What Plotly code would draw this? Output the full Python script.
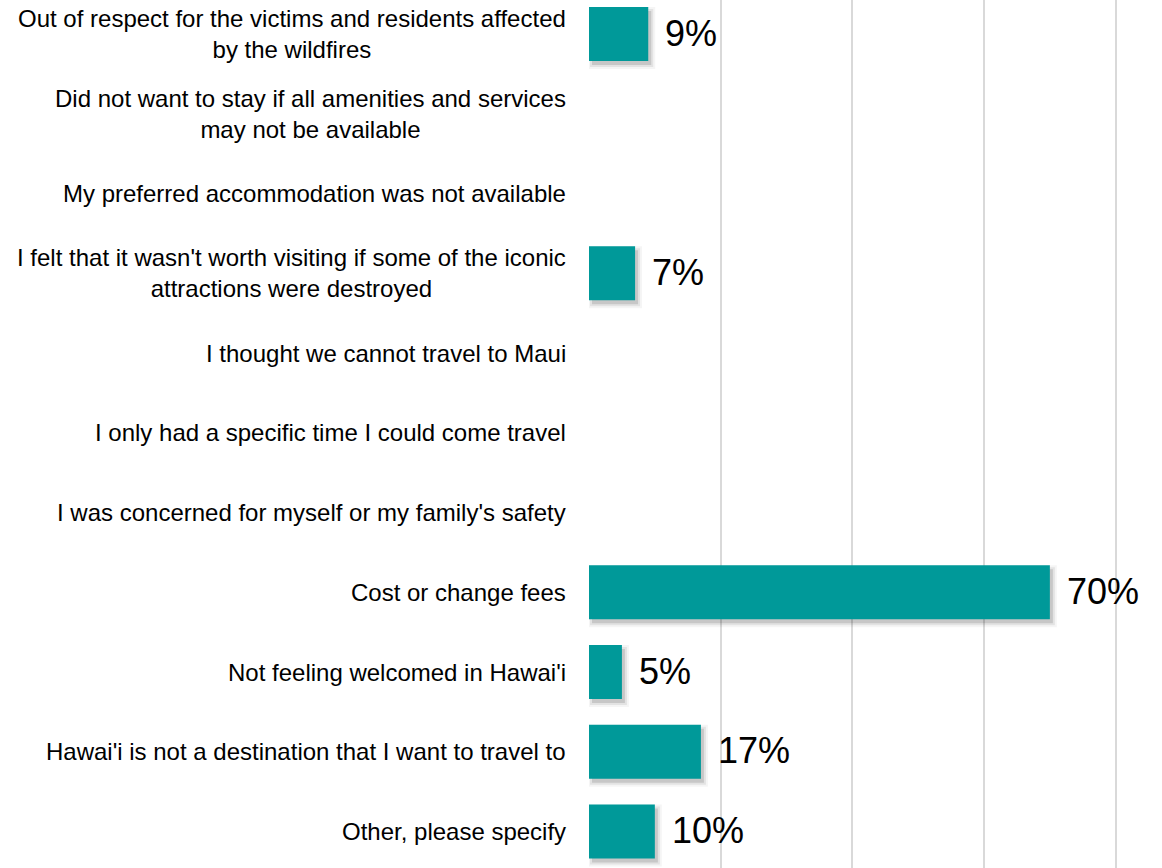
import plotly.graph_objects as go

# Reasons for cancelling / not travelling (share of respondents, %)
categories = [
    "Out of respect for the victims and residents affected<br>by the wildfires",
    "Did not want to stay if all amenities and services<br>may not be available",
    "My preferred accommodation was not available",
    "I felt that it wasn't worth visiting if some of the iconic<br>attractions were destroyed",
    "I thought we cannot travel to Maui",
    "I only had a specific time I could come travel",
    "I was concerned for myself or my family's safety",
    "Cost or change fees",
    "Not feeling welcomed in Hawai'i",
    "Hawai'i is not a destination that I want to travel to",
    "Other, please specify",
]
values = [9, None, None, 7, None, None, None, 70, 5, 17, 10]

BAR_COLOR = "#009999"
FONT = "Arial, Liberation Sans, sans-serif"
W, H = 1162, 868
L_MARGIN = 589
PX_PER_PCT = 6.5875
X_MAX = 80.5
R_MARGIN = round(W - L_MARGIN - X_MAX * PX_PER_PCT)
BAR_WIDTH = 0.68

px_per_unit_x = (W - L_MARGIN - R_MARGIN) / X_MAX
px_per_cat = 79.75
y_top = -34 / px_per_cat
y_bottom = (H - 34) / px_per_cat

fig = go.Figure()

# soft drop shadow built from a few translucent layers behind the bars
shadow_layers = [(3, 4, 4, 0.04), (3, 4, 2, 0.07), (3, 4, 0, 0.12)]
for dx, dy, grow, alpha in shadow_layers:
    xs = [None if v is None else v + (2 * grow) / px_per_unit_x for v in values]
    fig.add_trace(go.Bar(
        x=xs, y=categories, orientation="h",
        base=(dx - grow) / px_per_unit_x,
        width=BAR_WIDTH + 2 * grow / px_per_cat,
        offset=-(BAR_WIDTH / 2) + (dy - grow) / px_per_cat,
        marker=dict(color=f"rgba(0,0,0,{alpha})", line=dict(width=0)),
        hoverinfo="skip", showlegend=False,
    ))

fig.add_trace(go.Bar(
    x=values, y=categories, orientation="h",
    width=BAR_WIDTH,
    marker=dict(color=BAR_COLOR, line=dict(width=0)),
    showlegend=False,
))

annotations = []
# category labels: block right-aligned to the axis, lines centred within it
for cat in categories:
    annotations.append(dict(
        x=0, xref="paper", y=cat, yref="y",
        text=cat, showarrow=False, align="center",
        xanchor="right", yanchor="middle", xshift=-21,
        font=dict(family=FONT, size=24, color="#000000"),
    ))

# value labels
for cat, v in zip(categories, values):
    if v is None:
        continue
    annotations.append(dict(
        x=v, xref="x", y=cat, yref="y",
        text=f"{v}%", showarrow=False,
        xanchor="left", yanchor="middle", xshift=15, yshift=1,
        font=dict(family=FONT, size=36, color="#000000"),
    ))

fig.update_layout(
    width=W, height=H,
    margin=dict(l=L_MARGIN, r=R_MARGIN, t=0, b=0),
    paper_bgcolor="white", plot_bgcolor="white",
    barmode="overlay",
    annotations=annotations,
    xaxis=dict(
        range=[0, X_MAX], dtick=20, showticklabels=False,
        showgrid=True, gridcolor="#d9d9d9", gridwidth=1.5,
        zeroline=False, showline=False, ticks="",
    ),
    yaxis=dict(
        type="category", categoryorder="array", categoryarray=categories,
        range=[y_bottom, y_top], showticklabels=False,
        showgrid=False, zeroline=False, showline=False, ticks="",
    ),
)

fig.write_html("out.html")
